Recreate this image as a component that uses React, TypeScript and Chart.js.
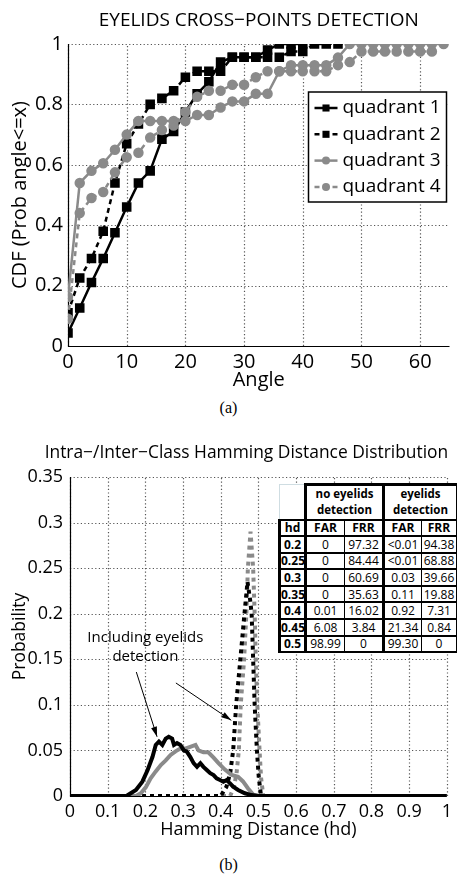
import React, { useEffect, useRef } from 'react';
import { Chart, registerables } from 'chart.js';

Chart.register(...registerables);

const SANS = '"Open Sans", "Noto Sans", sans-serif';
const GRAY = '#8a8a8a';
const GRID = '#555555';

// ---------- (a) Eyelids cross-points detection (CDF) ----------
const q1Angle = [0, 2, 4, 6, 8, 10, 12, 14, 16, 18, 20, 22, 24, 26, 28, 30, 32, 34, 36, 38, 40];
const q1Cdf = [0.043, 0.126, 0.21, 0.29, 0.375, 0.46, 0.54, 0.58, 0.685, 0.71, 0.775, 0.835, 0.875, 0.94, 0.956, 0.956, 0.956, 0.98, 1, 1, 1];

const q2Angle = [0, 2, 4, 6, 8, 10, 12, 14, 16, 18, 20, 22, 24, 26, 28, 30, 32, 34, 36, 38, 40, 42, 44, 46];
const q2Cdf = [0.11, 0.225, 0.29, 0.38, 0.54, 0.67, 0.735, 0.8, 0.82, 0.845, 0.89, 0.91, 0.91, 0.91, 0.956, 0.956, 0.956, 0.956, 0.956, 0.975, 0.975, 1, 1, 1];

const q3Angle = [0, 2, 4, 6, 8, 10, 12, 14, 16, 18, 20, 22, 24, 26, 28, 30, 32, 34, 36, 38, 40, 42, 44, 46, 48, 50, 52, 54, 56, 58, 60, 62, 64];
const q3Cdf = [0.163, 0.54, 0.58, 0.605, 0.65, 0.7, 0.745, 0.745, 0.745, 0.745, 0.745, 0.765, 0.765, 0.79, 0.81, 0.81, 0.835, 0.835, 0.91, 0.93, 0.93, 0.93, 0.93, 0.955, 1, 1, 1, 1, 1, 1, 1, 1, 1];

const q4Angle = [0, 2, 4, 6, 8, 10, 12, 14, 16, 18, 20, 22, 24, 26, 28, 30, 32, 34, 36, 38, 40, 42, 44, 46, 48, 50, 52, 54, 56, 58, 60, 62];
const q4Cdf = [0.09, 0.44, 0.49, 0.51, 0.575, 0.625, 0.64, 0.69, 0.715, 0.73, 0.775, 0.825, 0.845, 0.845, 0.865, 0.865, 0.89, 0.91, 0.91, 0.91, 0.91, 0.91, 0.91, 0.93, 0.94, 0.975, 0.975, 0.975, 0.975, 0.975, 0.975, 0.975];

const angleTicks = [0, 10, 20, 30, 40, 50, 60];
const angleTickLabels = ['0', '10', '20', '30', '40', '50', '60'];
const cdfTicks = [0, 0.2, 0.4, 0.6, 0.8, 1];
const cdfTickLabels = ['0', '0.2', '0.4', '0.6', '0.8', '1'];

// ---------- (b) Intra-/Inter-class Hamming distance distribution ----------
const intraEyelidsHd = [0, 0.15, 0.157, 0.175, 0.192, 0.206, 0.219, 0.2275, 0.236, 0.245, 0.254, 0.262, 0.271, 0.276, 0.284, 0.293, 0.302, 0.31, 0.319, 0.328, 0.337, 0.346, 0.354, 0.363, 0.372, 0.381, 0.389, 0.398, 0.407, 0.416, 0.424, 0.433, 0.446, 0.464, 0.481, 0.5, 1];
const intraEyelidsProb = [0, 0, 0.002, 0.0066, 0.0157, 0.0285, 0.043, 0.056, 0.0596, 0.056, 0.063, 0.065, 0.063, 0.056, 0.058, 0.056, 0.05, 0.0486, 0.043, 0.036, 0.032, 0.036, 0.032, 0.0285, 0.025, 0.023, 0.0194, 0.0176, 0.0157, 0.0176, 0.014, 0.0102, 0.0066, 0.003, 0.001, 0, 0];

const intraNoEyelidsHd = [0, 0.175, 0.188, 0.201, 0.214, 0.2275, 0.241, 0.254, 0.267, 0.28, 0.293, 0.306, 0.319, 0.333, 0.341, 0.354, 0.367, 0.381, 0.394, 0.411, 0.429, 0.446, 0.459, 0.472, 0.486, 0.5, 1];
const intraNoEyelidsProb = [0, 0, 0.003, 0.0095, 0.0194, 0.027, 0.034, 0.039, 0.045, 0.049, 0.052, 0.052, 0.054, 0.056, 0.05, 0.048, 0.048, 0.042, 0.036, 0.029, 0.023, 0.021, 0.016, 0.0085, 0.0015, 0, 0];

const interEyelidsHd = [0, 0.4, 0.415, 0.425, 0.433, 0.441, 0.452, 0.463, 0.471, 0.478, 0.482, 0.486, 0.49, 0.496, 0.501, 0.507, 1];
const interEyelidsProb = [0, 0, 0.01, 0.025, 0.05, 0.1, 0.15, 0.2, 0.235, 0.215, 0.2, 0.15, 0.1, 0.05, 0.02, 0, 0];

const interNoEyelidsHd = [0, 0.425, 0.435, 0.442, 0.448, 0.453, 0.462, 0.468, 0.472, 0.479, 0.486, 0.49, 0.493, 0.497, 0.503, 0.507, 0.513, 1];
const interNoEyelidsProb = [0, 0, 0.01, 0.025, 0.05, 0.1, 0.15, 0.2, 0.25, 0.29, 0.25, 0.2, 0.15, 0.1, 0.05, 0.02, 0, 0];

const hdTicks = [0, 0.1, 0.2, 0.3, 0.4, 0.5, 0.6, 0.7, 0.8, 0.9, 1];
const hdTickLabels = ['0', '0.1', '0.2', '0.3', '0.4', '0.5', '0.6', '0.7', '0.8', '0.9', '1'];
const probTicks = [0, 0.05, 0.1, 0.15, 0.2, 0.25, 0.3, 0.35];
const probTickLabels = ['0', '0.05', '0.1', '0.15', '0.2', '0.25', '0.3', '0.35'];

const titleB = 'Intra−/Inter−Class Hamming Distance Distribution';

// callout text and arrows (data units of chart b)
const calloutLines = ['Including eyelids', 'detection'];
const calloutHd = 0.2;
const calloutProb = [0.1734, 0.1525];
const arrowFromHd = [0.176, 0.281];
const arrowFromProb = [0.136, 0.124];
const arrowToHd = [0.231, 0.428];
const arrowToProb = [0.065, 0.083];

// ---------- table ----------
const tableHd = ['0.2', '0.25', '0.3', '0.35', '0.4', '0.45', '0.5'];
const farNoEyelids = ['0', '0', '0', '0', '0.01', '6.08', '98.99'];
const frrNoEyelids = ['97.32', '84.44', '60.69', '35.63', '16.02', '3.84', '0'];
const farEyelids = ['<0.01', '<0.01', '0.03', '0.11', '0.92', '21.34', '99.30'];
const frrEyelids = ['94.38', '68.88', '39.66', '19.88', '7.31', '0.84', '0'];

const toXY = (xs: number[], ys: number[]) => xs.map((x, i) => ({ x, y: ys[i] }));

// dotted grid drawn on the chart area from the scales' ticks
const dottedGridPlugin = {
  id: 'dottedGrid',
  beforeDatasetsDraw(chart: any) {
    const { ctx, chartArea, scales } = chart;
    ctx.save();
    ctx.strokeStyle = GRID;
    ctx.lineWidth = 1.2;
    ctx.setLineDash([1.2, 2.4]);
    scales.x.ticks.forEach((t: any) => {
      const px = Math.round(scales.x.getPixelForValue(t.value)) + 0.5;
      ctx.beginPath();
      ctx.moveTo(px, chartArea.bottom);
      ctx.lineTo(px, chartArea.top);
      ctx.stroke();
    });
    scales.y.ticks.forEach((t: any) => {
      const py = Math.round(scales.y.getPixelForValue(t.value)) + 0.5;
      ctx.beginPath();
      ctx.moveTo(chartArea.left, py);
      ctx.lineTo(chartArea.right, py);
      ctx.stroke();
    });
    ctx.setLineDash([]);
    ctx.strokeStyle = '#000';
    ctx.lineWidth = 1.2;
    ctx.beginPath();
    ctx.moveTo(chartArea.left + 0.5, chartArea.top);
    ctx.lineTo(chartArea.left + 0.5, chartArea.bottom + 0.5);
    ctx.lineTo(chartArea.right, chartArea.bottom + 0.5);
    ctx.stroke();
    ctx.restore();
  },
};

const legendPlugin = {
  id: 'boxLegend',
  afterDatasetsDraw(chart: any) {
    const { ctx, chartArea } = chart;
    const w = 138;
    const h = 110;
    const x0 = chartArea.right - 3 - w;
    const y0 = chartArea.top + 48;
    ctx.save();
    ctx.fillStyle = '#fff';
    ctx.fillRect(x0, y0, w, h);
    ctx.strokeStyle = '#000';
    ctx.lineWidth = 1.5;
    ctx.strokeRect(x0, y0, w, h);
    chart.data.datasets.forEach((ds: any, i: number) => {
      const cy = y0 + 16 + i * 26.3;
      ctx.strokeStyle = ds.borderColor;
      ctx.lineWidth = ds.borderWidth;
      ctx.setLineDash(ds.borderDash || []);
      ctx.beginPath();
      ctx.moveTo(x0 + 6, cy);
      ctx.lineTo(x0 + 29, cy);
      ctx.stroke();
      ctx.setLineDash([]);
      ctx.fillStyle = ds.backgroundColor;
      const mx = x0 + 17.5;
      if (ds.pointStyle === 'rect') {
        const s = ds.pointRadius * Math.SQRT1_2;
        ctx.fillRect(mx - s, cy - s, 2 * s, 2 * s);
      } else {
        ctx.beginPath();
        ctx.arc(mx, cy, ds.pointRadius, 0, Math.PI * 2);
        ctx.fill();
      }
      ctx.fillStyle = '#000';
      ctx.font = `19px ${SANS}`;
      ctx.textBaseline = 'middle';
      ctx.textAlign = 'left';
      ctx.fillText(ds.label, x0 + 34, cy);
    });
    ctx.restore();
  },
};

const calloutPlugin = {
  id: 'callout',
  afterDatasetsDraw(chart: any) {
    const { ctx, scales, chartArea } = chart;
    const sx = scales.x;
    const sy = scales.y;
    ctx.save();
    ctx.fillStyle = '#000';
    ctx.textAlign = 'center';
    ctx.textBaseline = 'middle';
    ctx.font = `17.4px ${SANS}`;
    ctx.fillText(titleB, (chartArea.left + chartArea.right) / 2 - 12, chartArea.top - 24);
    ctx.font = `15px ${SANS}`;
    calloutLines.forEach((t, i) => {
      ctx.fillText(t, sx.getPixelForValue(calloutHd), sy.getPixelForValue(calloutProb[i]));
    });
    ctx.strokeStyle = '#000';
    ctx.lineWidth = 1;
    arrowFromHd.forEach((_, i) => {
      const x1 = sx.getPixelForValue(arrowFromHd[i]);
      const y1 = sy.getPixelForValue(arrowFromProb[i]);
      const x2 = sx.getPixelForValue(arrowToHd[i]);
      const y2 = sy.getPixelForValue(arrowToProb[i]);
      ctx.beginPath();
      ctx.moveTo(x1, y1);
      ctx.lineTo(x2, y2);
      ctx.stroke();
      const a = Math.atan2(y2 - y1, x2 - x1);
      const L = 10;
      const W = 3;
      ctx.beginPath();
      ctx.moveTo(x2, y2);
      ctx.lineTo(x2 - L * Math.cos(a) + W * Math.sin(a), y2 - L * Math.sin(a) - W * Math.cos(a));
      ctx.lineTo(x2 - L * Math.cos(a) - W * Math.sin(a), y2 - L * Math.sin(a) + W * Math.cos(a));
      ctx.closePath();
      ctx.fill();
    });
    ctx.restore();
  },
};

const H_A = 395;
const H_B = 420;

const gridOpts = { display: false, drawTicks: false };
const borderOpts = { display: false };

const configA: any = {
  type: 'line',
  data: {
    datasets: [
      { label: 'quadrant 1', data: toXY(q1Angle, q1Cdf), borderColor: '#000', backgroundColor: '#000', borderWidth: 2.5, pointStyle: 'rect', pointRadius: 5, order: 3 },
      { label: 'quadrant 2', data: toXY(q2Angle, q2Cdf), borderColor: '#000', backgroundColor: '#000', borderWidth: 2.5, borderDash: [5, 4], pointStyle: 'rect', pointRadius: 5, order: 2 },
      { label: 'quadrant 3', data: toXY(q3Angle, q3Cdf), borderColor: GRAY, backgroundColor: GRAY, borderWidth: 2.5, pointStyle: 'circle', pointRadius: 4, order: 1 },
      { label: 'quadrant 4', data: toXY(q4Angle, q4Cdf), borderColor: GRAY, backgroundColor: GRAY, borderWidth: 2.5, borderDash: [5, 4], pointStyle: 'circle', pointRadius: 4, order: 0 },
    ],
  },
  options: {
    responsive: false,
    animation: false,
    devicePixelRatio: 1,
    layout: { padding: { left: 0, right: 7, top: 0, bottom: 0 } },
    elements: { line: { tension: 0 }, point: { borderWidth: 0 } },
    plugins: {
      legend: { display: false },
      tooltip: { enabled: false },
      title: {
        display: true,
        fullSize: false,
        text: 'EYELIDS CROSS−POINTS DETECTION',
        color: '#000',
        font: { family: SANS, size: 19, weight: 'normal' },
        padding: { top: 9, bottom: 12.2 },
      },
    },
    scales: {
      x: {
        type: 'linear',
        min: 0,
        max: 65,
        afterBuildTicks: (s: any) => { s.ticks = angleTicks.map((v) => ({ value: v })); },
        afterFit: (s: any) => { s.height = H_A - 346; },
        ticks: { color: '#000', font: { family: SANS, size: 20 }, padding: 4, autoSkip: false, maxRotation: 0, callback: (_v: any, i: number) => angleTickLabels[i] },
        grid: gridOpts,
        border: borderOpts,
        title: { display: true, text: 'Angle', color: '#000', font: { family: SANS, size: 20 }, padding: { top: 0, bottom: 3 } },
      },
      y: {
        type: 'linear',
        min: 0,
        max: 1,
        afterBuildTicks: (s: any) => { s.ticks = cdfTicks.map((v) => ({ value: v })); },
        afterFit: (s: any) => { s.width = 68; },
        ticks: { color: '#000', font: { family: SANS, size: 20 }, padding: 5, autoSkip: false, callback: (_v: any, i: number) => cdfTickLabels[i] },
        grid: gridOpts,
        border: borderOpts,
        title: { display: true, text: 'CDF (Prob angle<=x)', color: '#000', font: { family: SANS, size: 20 }, padding: { top: 8, bottom: 0 } },
      },
    },
  },
  plugins: [dottedGridPlugin, legendPlugin],
};

const configB: any = {
  type: 'line',
  data: {
    datasets: [
      { label: 'Intra-class, eyelids detection', data: toXY(intraEyelidsHd, intraEyelidsProb), borderColor: '#000', borderWidth: 4, pointRadius: 0 },
      { label: 'Intra-class, no eyelids detection', data: toXY(intraNoEyelidsHd, intraNoEyelidsProb), borderColor: GRAY, borderWidth: 4, pointRadius: 0 },
      { label: 'Inter-class, eyelids detection', data: toXY(interEyelidsHd, interEyelidsProb), borderColor: '#000', borderWidth: 4, borderDash: [4, 4], borderCapStyle: 'butt', pointRadius: 0 },
      { label: 'Inter-class, no eyelids detection', data: toXY(interNoEyelidsHd, interNoEyelidsProb), borderColor: GRAY, borderWidth: 4, borderDash: [4, 4], borderCapStyle: 'butt', pointRadius: 0 },
    ],
  },
  options: {
    responsive: false,
    animation: false,
    devicePixelRatio: 1,
    layout: { padding: { left: 0, right: 6, top: 52, bottom: 0 } },
    elements: { line: { tension: 0 } },
    plugins: {
      legend: { display: false },
      tooltip: { enabled: false },
      title: { display: false },
    },
    scales: {
      x: {
        type: 'linear',
        min: 0,
        max: 1,
        afterBuildTicks: (s: any) => { s.ticks = hdTicks.map((v) => ({ value: v })); },
        afterFit: (s: any) => { s.height = H_B - 371; },
        ticks: { color: '#000', font: { family: SANS, size: 18 }, padding: 5, autoSkip: false, maxRotation: 0, callback: (_v: any, i: number) => hdTickLabels[i] },
        grid: gridOpts,
        border: borderOpts,
        title: { display: true, text: 'Hamming Distance (hd)', color: '#000', font: { family: SANS, size: 18 }, padding: { top: 0, bottom: 4.2 } },
      },
      y: {
        type: 'linear',
        min: 0,
        max: 0.35,
        afterBuildTicks: (s: any) => { s.ticks = probTicks.map((v) => ({ value: v })); },
        afterFit: (s: any) => { s.width = 70; },
        ticks: { color: '#000', font: { family: SANS, size: 18 }, padding: 7, autoSkip: false, callback: (_v: any, i: number) => probTickLabels[i] },
        grid: gridOpts,
        border: borderOpts,
        title: { display: true, text: 'Probability', color: '#000', font: { family: SANS, size: 17.5 }, padding: { top: 9.5, bottom: 0 } },
      },
    },
  },
  plugins: [dottedGridPlugin, calloutPlugin],
};

function ChartCanvas({ config, top, height }: { config: any; top: number; height: number }) {
  const ref = useRef<HTMLCanvasElement>(null);
  useEffect(() => {
    const chart = new Chart(ref.current as HTMLCanvasElement, config);
    return () => chart.destroy();
  }, [config]);
  return (
    <canvas
      ref={ref}
      width={457}
      height={height}
      style={{ position: 'absolute', left: 0, top, width: 457, height }}
    />
  );
}

const TABLE_FONT = '"Open Sans", sans-serif';

function HdTable() {
  const thick = '3px solid #000';
  const mid = '2px solid #000';
  const thin = '1px solid #000';
  const colRight = [thick, thin, thick, thin, thick];
  const base: React.CSSProperties = {
    borderTop: mid,
    borderBottom: mid,
    textAlign: 'center',
    padding: 0,
    whiteSpace: 'nowrap',
    overflow: 'hidden',
  };
  const cell = (content: string, col: number, bold: boolean) => (
    <td
      key={col}
      style={{
        ...base,
        borderLeft: col === 0 ? thick : undefined,
        borderRight: colRight[col],
        fontWeight: bold ? 700 : 400,
      }}
    >
      {content}
    </td>
  );
  return (
    <table
      style={{
        position: 'absolute',
        left: 278,
        top: 483,
        width: 178,
        borderCollapse: 'collapse',
        tableLayout: 'fixed',
        background: '#fff',
        fontFamily: TABLE_FONT,
        fontSize: 12,
        lineHeight: '13px',
        color: '#000',
      }}
    >
      <colgroup>
        <col style={{ width: 26 }} />
        <col style={{ width: 39 }} />
        <col style={{ width: 39 }} />
        <col style={{ width: 38 }} />
        <col style={{ width: 36 }} />
      </colgroup>
      <tbody>
        <tr style={{ height: 35 }}>
          <td style={{ border: '1px solid #cfdde2', borderBottom: mid, padding: 0 }} />
          <td colSpan={2} style={{ ...base, borderTop: thick, borderLeft: thick, borderRight: thick, fontWeight: 700, fontSize: 11.5, lineHeight: '16px' }}>
            no eyelids<br />detection
          </td>
          <td colSpan={2} style={{ ...base, borderTop: thick, borderRight: thick, fontWeight: 700, fontSize: 11.5, lineHeight: '16px' }}>
            eyelids<br />detection
          </td>
        </tr>
        <tr style={{ height: 16.5 }}>
          {['hd', 'FAR', 'FRR', 'FAR', 'FRR'].map((t, c) => cell(t, c, true))}
        </tr>
        {tableHd.map((hd, r) => (
          <tr key={hd} style={{ height: 16.6 }}>
            {cell(hd, 0, true)}
            {cell(farNoEyelids[r], 1, false)}
            {cell(frrNoEyelids[r], 2, false)}
            {cell(farEyelids[r], 3, false)}
            {cell(frrEyelids[r], 4, false)}
          </tr>
        ))}
      </tbody>
    </table>
  );
}

const captionStyle: React.CSSProperties = {
  position: 'absolute',
  left: 0,
  width: 457,
  textAlign: 'center',
  fontFamily: '"Liberation Serif", "DejaVu Serif", serif',
  fontSize: 16,
  lineHeight: '20px',
  color: '#000',
};

export default function App() {
  return (
    <div style={{ position: 'absolute', left: 0, top: 0, width: 457, height: 877, background: '#fff', overflow: 'hidden' }}>
      <ChartCanvas config={configA} top={0} height={H_A} />
      <div style={{ ...captionStyle, top: 398 }}>(a)</div>
      <ChartCanvas config={configB} top={425} height={H_B} />
      <HdTable />
      <div style={{ ...captionStyle, top: 855 }}>(b)</div>
    </div>
  );
}
